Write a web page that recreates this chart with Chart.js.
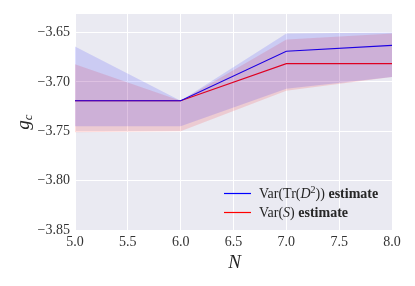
<!DOCTYPE html>
<html>
<head>
<meta charset="utf-8">
<script src="https://cdn.jsdelivr.net/npm/chart.js@4"></script>
<style>
  html, body { margin: 0; padding: 0; background: #fff; }
  #wrap { width: 415px; height: 286px; position: relative; }
</style>
</head>
<body>
<div id="wrap"><canvas id="chart"></canvas></div>
<script>
// data
const nValues = [5, 6, 7, 8];
const varTrMean = [-3.719, -3.719, -3.669, -3.663];
const varTrLow  = [-3.745, -3.745, -3.707, -3.695];
const varTrHigh = [-3.664, -3.719, -3.651, -3.650];
const varSMean  = [-3.719, -3.719, -3.6815, -3.6815];
const varSLow   = [-3.751, -3.750, -3.709, -3.695];
const varSHigh  = [-3.682, -3.719, -3.657, -3.651];
const xTicks = [5.0, 5.5, 6.0, 6.5, 7.0, 7.5, 8.0];
const yTicks = [-3.85, -3.80, -3.75, -3.70, -3.65];
const legendLabels = ["Var(Tr(D²)) estimate", "Var(S) estimate"];

const SERIF = "'Liberation Serif', 'DejaVu Serif', serif";
const pts = arr => arr.map((v, i) => ({ x: nValues[i], y: v }));

const bgPlugin = {
    id: 'bg',
    beforeDraw(chart) {
        const { ctx, chartArea: a } = chart;
        ctx.save();
        ctx.fillStyle = '#EAEAF2';
        ctx.fillRect(a.left, a.top, a.right - a.left, a.bottom - a.top);
        ctx.restore();
    }
};

// axis titles + legend, drawn by hand for the math text
const textPlugin = {
    id: 'mathText',
    afterDraw(chart) {
        const { ctx, chartArea: a } = chart;
        ctx.save();
        ctx.fillStyle = '#262626';
        // x title
        ctx.font = 'italic 19px ' + SERIF;
        ctx.textAlign = 'center';
        ctx.textBaseline = 'alphabetic';
        ctx.fillText('N', (a.left + a.right) / 2 + 1, 268);
        // y title (rotated)
        ctx.translate(29, (a.top + a.bottom) / 2);
        ctx.rotate(-Math.PI / 2);
        ctx.textAlign = 'left';
        ctx.font = 'italic 19px ' + SERIF;
        const gw = ctx.measureText('g').width;
        ctx.font = 'italic 13px ' + SERIF;
        const cw = ctx.measureText('c').width;
        const sx = -(gw + cw) / 2;
        ctx.font = 'italic 19px ' + SERIF;
        ctx.fillText('g', sx, 0);
        ctx.font = 'italic 13px ' + SERIF;
        ctx.fillText('c', sx + gw, 3);
        ctx.restore();

        // legend
        ctx.save();
        const rows = [
            { color: 'blue', y: 193.5, parts: [['Var(Tr(', ''], ['D', 'italic'], ['2', 'sup'], ['))', ''], [' estimate', 'bold']] },
            { color: 'red', y: 212.5, parts: [['Var(', ''], ['S', 'italic'], [')', ''], [' estimate', 'bold']] }
        ];
        rows.forEach(r => {
            ctx.strokeStyle = r.color;
            ctx.lineWidth = 1.2;
            ctx.beginPath();
            ctx.moveTo(224, r.y);
            ctx.lineTo(251, r.y);
            ctx.stroke();
            let x = 259;
            ctx.fillStyle = '#262626';
            ctx.textBaseline = 'alphabetic';
            ctx.textAlign = 'left';
            r.parts.forEach(([t, s]) => {
                let font = '14px ' + SERIF, dy = 4.5;
                if (s === 'italic') font = 'italic 14px ' + SERIF;
                if (s === 'bold') font = 'bold 14px ' + SERIF;
                if (s === 'sup') { font = '10px ' + SERIF; dy = -0.5; }
                ctx.font = font;
                ctx.fillText(t, x, r.y + dy);
                x += ctx.measureText(t).width;
            });
        });
        ctx.restore();
    }
};

const ctx = document.getElementById('chart').getContext('2d');
new Chart(ctx, {
    type: 'line',
    data: {
        datasets: [
            { label: 'trLow', data: pts(varTrLow), borderWidth: 0, pointRadius: 0, fill: false, borderColor: 'transparent' },
            { label: 'trHigh', data: pts(varTrHigh), borderWidth: 0, pointRadius: 0, fill: '-1', borderColor: 'transparent', backgroundColor: 'rgba(0,0,255,0.13)' },
            { label: 'sLow', data: pts(varSLow), borderWidth: 0, pointRadius: 0, fill: false, borderColor: 'transparent' },
            { label: 'sHigh', data: pts(varSHigh), borderWidth: 0, pointRadius: 0, fill: '-1', borderColor: 'transparent', backgroundColor: 'rgba(255,0,0,0.13)' },
            { label: legendLabels[0], data: pts(varTrMean), borderColor: 'blue', borderWidth: 1.1, pointRadius: 0, fill: false },
            { label: legendLabels[1], data: pts(varSMean), borderColor: 'red', borderWidth: 1.1, pointRadius: 0, fill: false }
        ]
    },
    options: {
        responsive: true, maintainAspectRatio: false, animation: false,
        layout: { padding: { left: 0, top: 14, right: 23, bottom: 0 } },
        plugins: { legend: { display: false }, tooltip: { enabled: false } },
        elements: { line: { tension: 0 } },
        scales: {
            x: {
                type: 'linear', min: 5, max: 8,
                afterBuildTicks: s => { s.ticks = xTicks.map(v => ({ value: v })); },
                afterFit: s => { s.height = 56; },
                grid: { color: '#ffffff', lineWidth: 1, drawTicks: false },
                border: { display: false },
                ticks: { color: '#333333', padding: 4, font: { family: SERIF, size: 14 }, callback: v => v.toFixed(1) }
            },
            y: {
                type: 'linear', min: -3.85, max: -3.6312,
                afterBuildTicks: s => { s.ticks = yTicks.map(v => ({ value: v })); },
                afterFit: s => { s.width = 75; },
                grid: { color: '#ffffff', lineWidth: 1, drawTicks: false },
                border: { display: false },
                ticks: { color: '#333333', padding: 5, font: { family: SERIF, size: 14 }, callback: v => '\u2212' + Math.abs(v).toFixed(2) }
            }
        }
    },
    plugins: [bgPlugin, textPlugin]
});
</script>
</body>
</html>
